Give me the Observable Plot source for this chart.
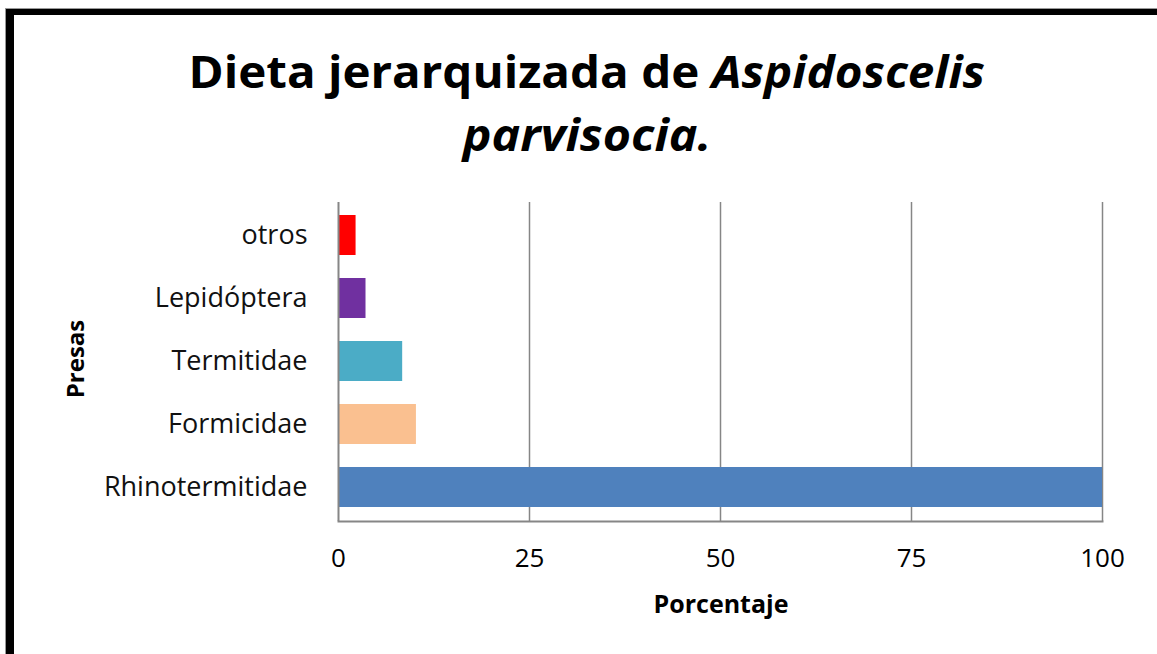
<!DOCTYPE html>
<html>
<head>
<meta charset="utf-8">
<script src="https://cdn.jsdelivr.net/npm/d3@7"></script>
<script src="https://cdn.jsdelivr.net/npm/@observablehq/plot@0.6"></script>
<style>
  html, body { margin: 0; padding: 0; background: #fff; }
  body { width: 1157px; height: 654px; overflow: hidden; position: relative; font-family: "Open Sans", sans-serif; }
  #frame { position: absolute; left: 6px; top: 9px; width: 2000px; height: 2000px;
    border-left: 8px solid #000; border-top: 6px solid #000; box-shadow: -1px -1px 0 #999; }
  .title { position: absolute; left: 0; width: 1174px; text-align: center; font-weight: 700; color: #000;
    font-size: 44px; line-height: 1; white-space: nowrap; }
  .title span.in { display: inline-block; transform-origin: center; }
  #t1 { top: 49px; }
  #t2 { top: 112px; }
  #chart { position: absolute; left: 0; top: 180px; }
  #xlabel { position: absolute; left: 0; width: 1442px; top: 586px; text-align: center; font-weight: 700; font-size: 25px; color: #000; }
  #ylabel { position: absolute; left: 74px; top: 359px; transform: translate(-50%, -50%) rotate(-90deg); font-weight: 700; font-size: 24px; color: #000; white-space: nowrap; }
</style>
</head>
<body>
<div id="frame"></div>
<div class="title" id="t1"><span class="in" style="transform: scaleX(1.08)">Dieta jerarquizada de <i>Aspidoscelis</i></span></div>
<div class="title" id="t2"><span class="in" style="transform: scaleX(1.1)"><i>parvisocia.</i></span></div>
<div id="chart"></div>
<div id="xlabel">Porcentaje</div>
<div id="ylabel">Presas</div>
<script>
const categories = ["otros", "Lepidóptera", "Termitidae", "Formicidae", "Rhinotermitidae"];
const values = [2.3, 3.6, 8.4, 10.2, 100];
const colors = ["#FF0000", "#7030A0", "#4BACC6", "#FAC090", "#4F81BD"];
const xTicks = [0, 25, 50, 75, 100];

const data = categories.map((c, i) => ({name: c, value: values[i]}));

const plot = Plot.plot({
  width: 1157,
  height: 450,
  marginTop: 22,
  marginBottom: 109,
  marginLeft: 338,
  marginRight: 55,
  style: {fontFamily: "'Open Sans', sans-serif", fontSize: "26px", color: "#000", background: "transparent"},
  x: {domain: [0, 100], ticks: xTicks},
  y: {domain: categories, paddingInner: 0.36, paddingOuter: 0.18},
  color: {domain: categories, range: colors},
  marks: [
    Plot.gridX(xTicks.filter(d => d > 0), {stroke: "#868686", strokeOpacity: 1, strokeWidth: 1.5}),
    Plot.barX(data, {x: "value", y: "name", fill: "name"}),
    Plot.ruleX([0], {stroke: "#868686", strokeWidth: 2}),
    Plot.frame({anchor: "bottom", stroke: "#868686", strokeWidth: 2}),
    Plot.axisX({ticks: xTicks, tickSize: 0, tickPadding: 27, label: null, fill: "#000", fontSize: 26}),
    Plot.axisY({tickSize: 0, tickPadding: 31, label: null, fill: "#111", fontSize: 27})
  ]
});
document.getElementById("chart").appendChild(plot);
</script>
</body>
</html>
